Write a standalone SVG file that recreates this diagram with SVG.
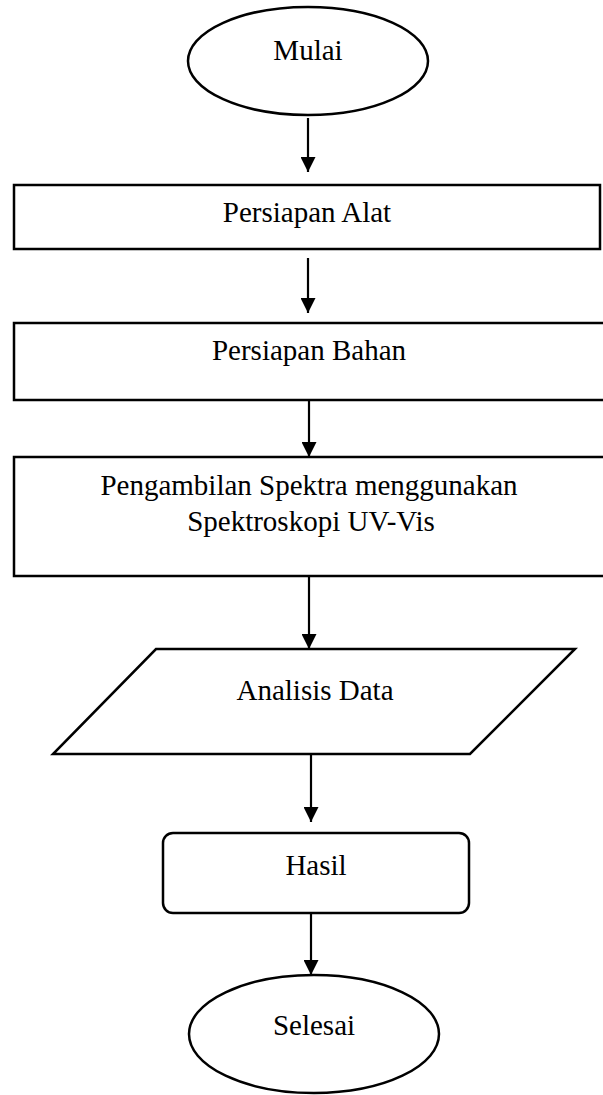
<svg xmlns="http://www.w3.org/2000/svg" width="603" height="1095" viewBox="0 0 603 1095">
<defs>
<style>
.shape{fill:#fff;stroke:#000;stroke-width:2.5}
.lbl{font-family:"Liberation Serif","Times New Roman",serif;font-size:29px;fill:#000;text-anchor:middle}
.conn{stroke:#000;stroke-width:2.2;fill:none}
</style>
<marker id="ah" viewBox="0 0 15 15" refX="15" refY="7.5" markerWidth="15" markerHeight="15" markerUnits="userSpaceOnUse" orient="auto">
<path d="M0,0 L15,7.5 L0,15 Z" fill="#000"/>
</marker>
</defs>
<rect x="0" y="0" width="603" height="1095" fill="#fff"/>
<g id="n-mulai">
<ellipse class="shape" cx="308" cy="61" rx="120" ry="54"/>
<text class="lbl" x="308" y="60">Mulai</text>
</g>
<g id="n-alat">
<rect class="shape" x="14" y="185" width="586" height="64"/>
<text class="lbl" x="307" y="222">Persiapan Alat</text>
</g>
<g id="n-bahan">
<rect class="shape" x="14" y="323" width="600" height="77"/>
<text class="lbl" x="309" y="360">Persiapan Bahan</text>
</g>
<g id="n-spektra">
<rect class="shape" x="14" y="457" width="600" height="119"/>
<text class="lbl" x="309" y="495">Pengambilan Spektra menggunakan</text>
<text class="lbl" x="311" y="531">Spektroskopi UV-Vis</text>
</g>
<g id="n-analisis">
<polygon class="shape" points="156,649 575,649 470,754 53,754"/>
<text class="lbl" x="315" y="700">Analisis Data</text>
</g>
<g id="n-hasil">
<rect class="shape" x="163" y="833" width="306" height="80" rx="10" ry="10"/>
<text class="lbl" x="316" y="875">Hasil</text>
</g>
<g id="n-selesai">
<ellipse class="shape" cx="314" cy="1034" rx="125" ry="59"/>
<text class="lbl" x="314" y="1035">Selesai</text>
</g>
<g id="connectors">
<line class="conn" x1="308" y1="118" x2="308" y2="172" marker-end="url(#ah)"/>
<line class="conn" x1="308" y1="258" x2="308" y2="313" marker-end="url(#ah)"/>
<line class="conn" x1="309" y1="401" x2="309" y2="457" marker-end="url(#ah)"/>
<line class="conn" x1="309" y1="577" x2="309" y2="649" marker-end="url(#ah)"/>
<line class="conn" x1="311" y1="755" x2="311" y2="822" marker-end="url(#ah)"/>
<line class="conn" x1="311" y1="914" x2="311" y2="975" marker-end="url(#ah)"/>
</g>
</svg>
